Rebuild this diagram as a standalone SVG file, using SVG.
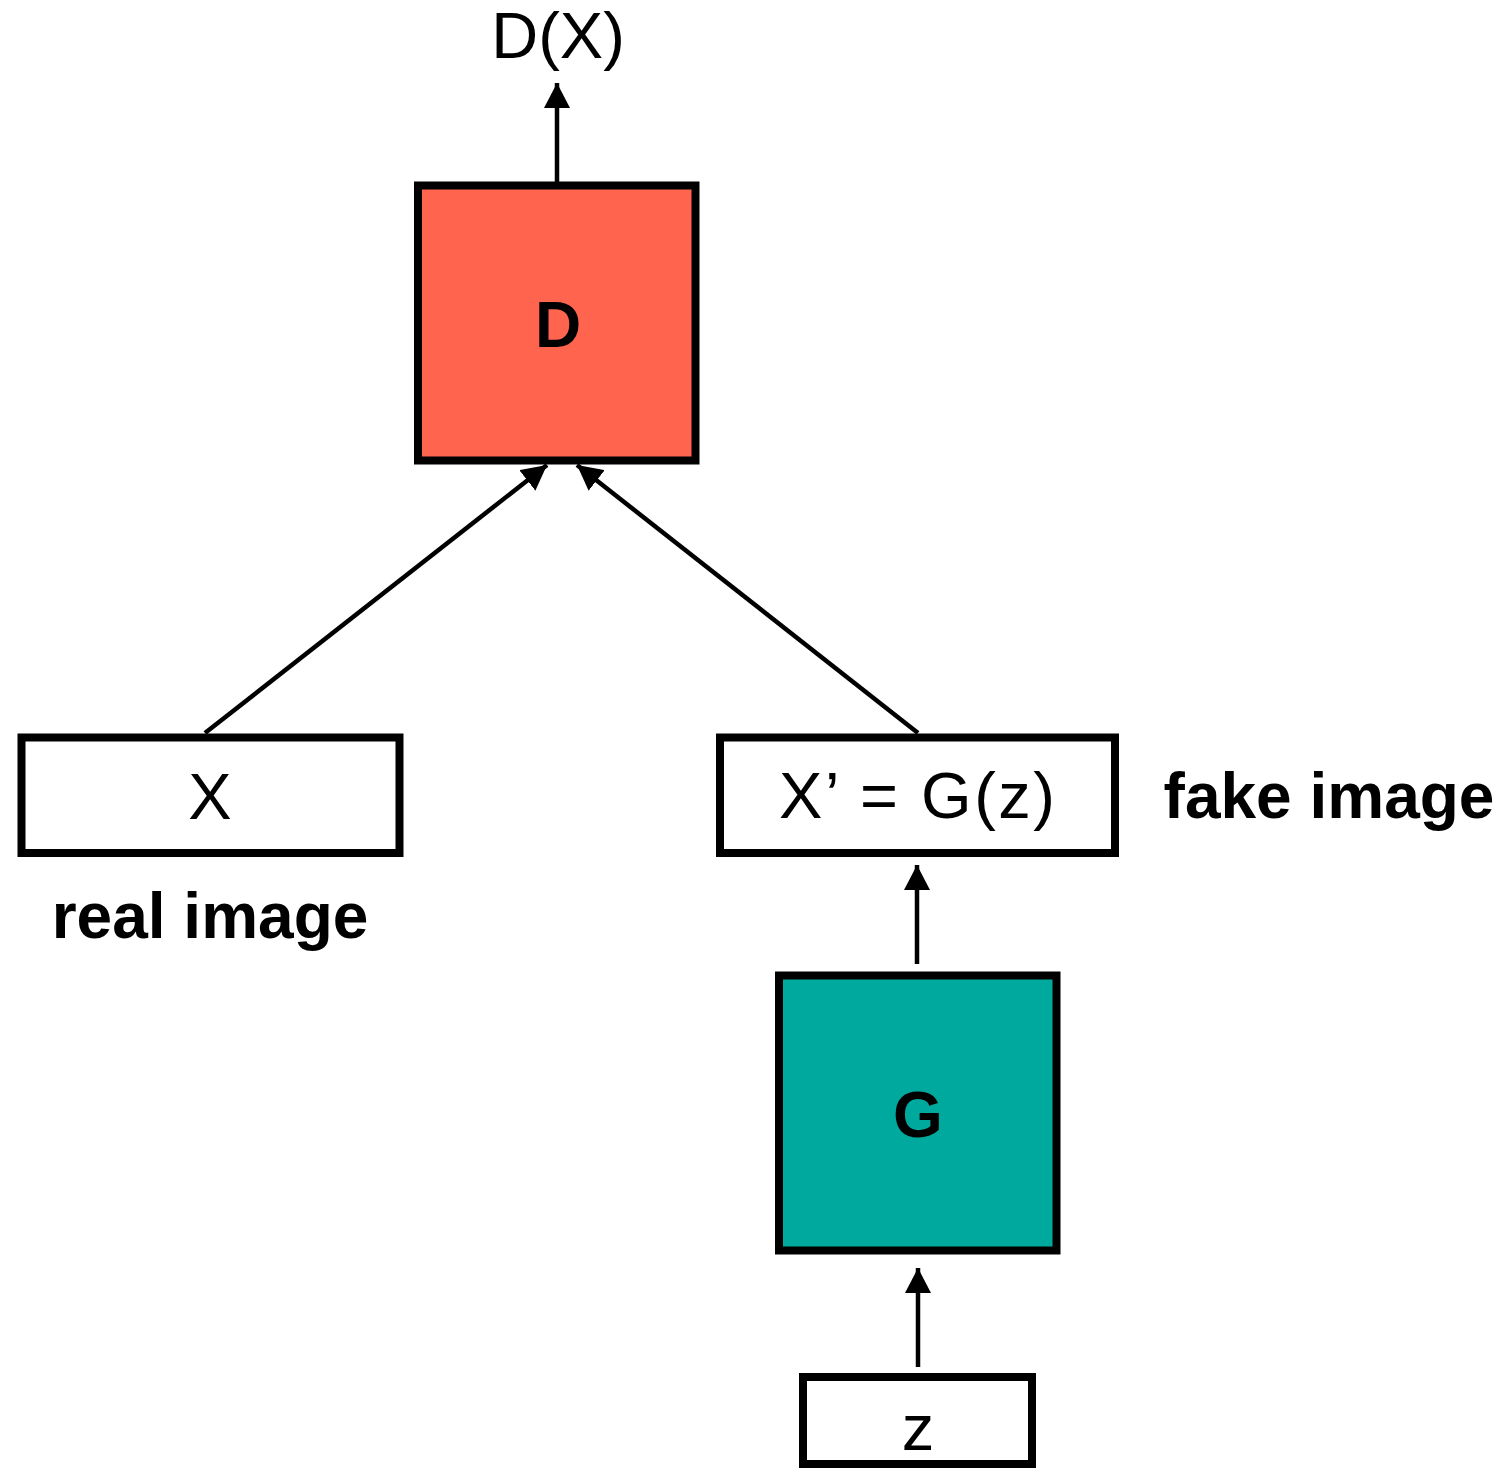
<svg xmlns="http://www.w3.org/2000/svg" width="1508" height="1469" viewBox="0 0 1508 1469">
<style>
.box{stroke:#000;stroke-width:8}
.lbl{font-family:"Liberation Sans",Arial,sans-serif;font-size:65px;fill:#000;text-anchor:middle}
.bold{font-family:"Liberation Sans",Arial,sans-serif;font-weight:bold;font-size:64px;fill:#000;text-anchor:middle}
.conn{stroke:#000;stroke-width:4.5;fill:none;marker-end:url(#arr)}
</style>
<defs>
<marker id="arr" markerUnits="userSpaceOnUse" markerWidth="26" markerHeight="26" refX="25" refY="13" orient="auto">
<path d="M0,0 L25,13 L0,26 z" fill="#000"/>
</marker>
</defs>
<rect width="1508" height="1469" fill="#fff"/>
<g id="connectors">
<line class="conn" x1="557" y1="183" x2="557" y2="83"/>
<line class="conn" x1="205" y1="733" x2="547" y2="465"/>
<line class="conn" x1="918" y1="733" x2="577" y2="465"/>
<line class="conn" x1="917" y1="964" x2="917" y2="865"/>
<line class="conn" x1="918" y1="1367" x2="918" y2="1268"/>
</g>
<g id="out">
<text class="lbl" x="558" y="58">D(X)</text>
</g>
<g id="D">
<rect class="box" x="418" y="185.5" width="277.5" height="275" fill="#FF644E"/>
<text class="bold" x="558" y="347">D</text>
</g>
<g id="X">
<rect class="box" x="21.5" y="737.5" width="378" height="115.5" fill="#fff"/>
<text class="lbl" x="210" y="819">X</text>
<text class="bold" x="210" y="938">real image</text>
</g>
<g id="Xp">
<rect class="box" x="720" y="737.5" width="395" height="115.5" fill="#fff"/>
<text class="lbl" x="917" y="818" textLength="276" lengthAdjust="spacing">X’ = G(z)</text>
<text class="bold" x="1329" y="818">fake image</text>
</g>
<g id="G">
<rect class="box" x="779" y="975.5" width="277.5" height="275" fill="#00A99D"/>
<text class="bold" x="918" y="1137">G</text>
</g>
<g id="z">
<rect class="box" x="803" y="1377" width="229" height="87" fill="#fff"/>
<text class="lbl" x="918" y="1450">z</text>
</g>
</svg>
